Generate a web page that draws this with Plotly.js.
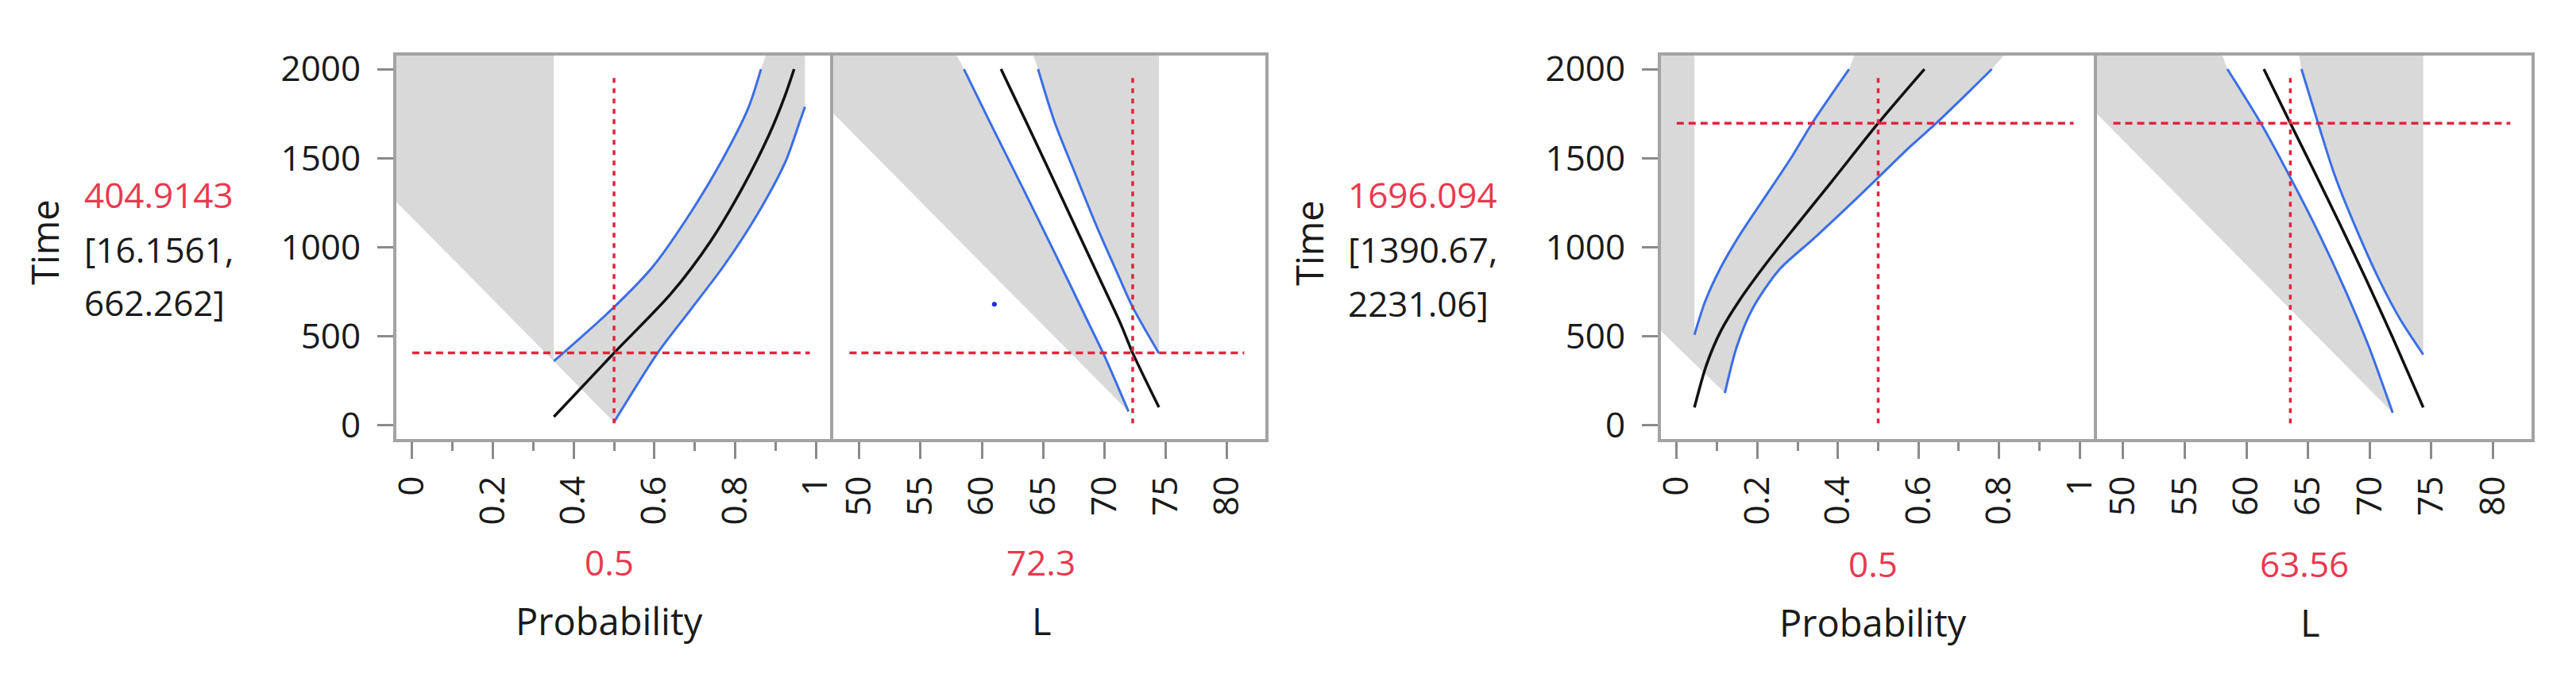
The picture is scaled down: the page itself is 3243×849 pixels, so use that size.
<!DOCTYPE html>
<html><head><meta charset="utf-8">
<script src="https://cdn.plot.ly/plotly-3.0.1.min.js"></script>
<style>html,body{margin:0;padding:0;background:#fff;}#chart{width:3243px;height:849px;}</style>
</head><body><div id="chart"></div>
<script>
// ---------------- axes / ticks ----------------
const timeTickVals = [0, 500, 1000, 1500, 2000];
const timeTickText = ['0', '500', '1000', '1500', '2000'];
const probTickVals = [0, 0.2, 0.4, 0.6, 0.8, 1];
const probTickText = ['0', '0.2', '0.4', '0.6', '0.8', '1'];
const lTickVals = [50, 55, 60, 65, 70, 75, 80];
const lTickText = ['50', '55', '60', '65', '70', '75', '80'];
const timeRange = [-87.5, 2085];
const probRange = [-0.043, 1.039];
const lRange = [47.75, 83.25];

// crosshair extents (data units)
const crossVertT = [10, 1955];
const crossHorizProb = [0, 0.985];
const crossHorizL = [49.2, 81.4];

// ---------------- left profiler ----------------
const leftSetProb = 0.5;
const leftSetL = 72.3;
const leftTime = 404.9143;
const leftCI = [16.1561, 662.262];

const lpBlackP = [0.351, 0.5, 0.641, 0.740, 0.818, 0.884, 0.924, 0.946];
const lpBlackT = [46, 404.9, 738, 1036, 1333, 1631, 1854, 2000];
const lpUpP = [0.351, 0.5, 0.595, 0.687, 0.766, 0.832, 0.864];
const lpUpT = [359, 662.3, 887, 1184, 1482, 1779, 2000];
const lpLoP = [0.5, 0.608, 0.692, 0.772, 0.855, 0.925, 0.960, 0.973];
const lpLoT = [16.2, 405, 655, 895, 1184, 1482, 1705, 1788];
const lpBandTopP = [0.877, 0.973];
const lpDiagEdgeT = 1262;

const llLeftBlueL = [58.54, 60.63, 63.33, 66.03, 68.62, 70.02, 71.96];
const llLeftBlueT = [2000, 1705, 1333, 955, 585, 385, 76];
const llBlackL = [61.56, 63.76, 66.57, 69.37, 71.31, 72.3, 74.44];
const llBlackT = [2000, 1682, 1270, 857, 570, 404.9, 100];
const llRightBlueL = [64.58, 65.92, 67.64, 69.37, 71.10, 72.3, 74.44];
const llRightBlueT = [2000, 1705, 1408, 1115, 845, 662.3, 403];
const llTopEdgeL = [57.88, 64.16];
const llDiagEdgeT = 1760;
const llPointL = [61.02];
const llPointT = [679];

// ---------------- right profiler ----------------
const rightSetProb = 0.5;
const rightSetL = 63.56;
const rightTime = 1696.094;
const rightCI = [1390.67, 2231.06];

const rpBlackP = [0.0441, 0.0736, 0.1098, 0.1556, 0.2212, 0.2999, 0.3853, 0.5, 0.6147];
const rpBlackT = [99, 336, 530, 700, 905, 1130, 1370, 1696.1, 2000];
const rpUpP = [0.0441, 0.0704, 0.1098, 0.1556, 0.2212, 0.2869, 0.3360, 0.4278];
const rpUpT = [507, 693, 887, 1065, 1288, 1512, 1696, 2000];
const rpLoP = [0.1196, 0.1491, 0.1885, 0.254, 0.3392, 0.418, 0.5, 0.582, 0.644, 0.727, 0.782];
const rpLoT = [180, 440, 655, 872, 1046, 1212, 1390.7, 1570, 1696, 1877, 2000];
const rpBandTopP = [0.442, 0.815];
const rpDiagEdgeT = 537;

const rlLeftBlueL = [58.45, 61.24, 63.56, 65.85, 68.0, 69.93, 71.86];
const rlLeftBlueT = [2000, 1687, 1390.7, 1080, 760, 440, 69];
const rlBlackL = [61.41, 63.56, 65.42, 67.57, 69.72, 71.86, 74.34];
const rlBlackT = [2000, 1696.1, 1436, 1130, 816, 491, 99];
const rlRightBlueL = [64.46, 65.85, 67.14, 68.86, 70.79, 72.51, 74.34];
const rlRightBlueT = [2000, 1687, 1407, 1110, 813, 589, 396];
const rlTopEdgeL = [58.01, 64.24];
const rlDiagEdgeT = 1757;

// ---------------- styles ----------------
const FILL = '#d9d9d9';
const BLUE = '#3b6ee6';
const BLACK = '#111111';
const RED = '#e0253f';
const RED_TXT = '#e8394f';
const TXT = '#1a1a1a';
const FRAME = '#a3a3a3';
const TICK = '#8a8a8a';
const FONT = 'Open Sans, Noto Sans, sans-serif';
const W = 3243, H = 849;

const yTop = timeRange[1];

function bandPoly(xMin, upX, upY, topEdge, loX, loY, diagEdge) {
  const xs = [xMin, upX[0]].concat(upX, topEdge, loX.slice().reverse(), [xMin]);
  const ys = [yTop, yTop].concat(upY, [yTop, yTop], loY.slice().reverse(), [diagEdge]);
  return {xs, ys};
}
function leftPoly(xMin, bx, by, topX, diagEdge) {
  return {xs: [xMin, topX].concat(bx, [xMin]), ys: [yTop, yTop].concat(by, [diagEdge])};
}
function rightPoly(topX, bx, by) {
  const endX = bx[bx.length - 1];
  return {xs: [topX, endX].concat(bx.slice().reverse()), ys: [yTop, yTop].concat(by.slice().reverse())};
}
function fillTrace(p, xa, ya) {
  return {x: p.xs, y: p.ys, xaxis: xa, yaxis: ya, type: 'scatter', mode: 'lines', fill: 'toself',
    fillcolor: FILL, line: {width: 0, color: FILL}, hoverinfo: 'skip', showlegend: false};
}
function curve(x, y, color, width, xa, ya) {
  return {x, y, xaxis: xa, yaxis: ya, type: 'scatter', mode: 'lines',
    line: {color, width, shape: 'spline', smoothing: 0.8}, hoverinfo: 'skip', showlegend: false};
}
function redLine(x, y, xa, ya, dash) {
  return {x, y, xaxis: xa, yaxis: ya, type: 'scatter', mode: 'lines',
    line: {color: RED, width: 3.5, dash}, hoverinfo: 'skip', showlegend: false};
}

const traces = [];
// left group
traces.push(fillTrace(bandPoly(probRange[0], lpUpP, lpUpT, lpBandTopP, lpLoP, lpLoT, lpDiagEdgeT), 'x', 'y'));
traces.push(fillTrace(leftPoly(lRange[0], llLeftBlueL, llLeftBlueT, llTopEdgeL[0], llDiagEdgeT), 'x2', 'y'));
traces.push(fillTrace(rightPoly(llTopEdgeL[1], llRightBlueL, llRightBlueT), 'x2', 'y'));
// right group
traces.push(fillTrace(bandPoly(probRange[0], rpUpP, rpUpT, rpBandTopP, rpLoP, rpLoT, rpDiagEdgeT), 'x3', 'y2'));
traces.push(fillTrace(leftPoly(lRange[0], rlLeftBlueL, rlLeftBlueT, rlTopEdgeL[0], rlDiagEdgeT), 'x4', 'y2'));
traces.push(fillTrace(rightPoly(rlTopEdgeL[1], rlRightBlueL, rlRightBlueT), 'x4', 'y2'));

// curves
traces.push(curve(lpUpP, lpUpT, BLUE, 3, 'x', 'y'));
traces.push(curve(lpLoP, lpLoT, BLUE, 3, 'x', 'y'));
traces.push(curve(lpBlackP, lpBlackT, BLACK, 3.5, 'x', 'y'));
traces.push(curve(llLeftBlueL, llLeftBlueT, BLUE, 3, 'x2', 'y'));
traces.push(curve(llRightBlueL, llRightBlueT, BLUE, 3, 'x2', 'y'));
traces.push(curve(llBlackL, llBlackT, BLACK, 3.5, 'x2', 'y'));
traces.push({x: llPointL, y: llPointT, xaxis: 'x2', yaxis: 'y', type: 'scatter', mode: 'markers',
  marker: {color: '#1f2bef', size: 6}, hoverinfo: 'skip', showlegend: false});
traces.push(curve(rpUpP, rpUpT, BLUE, 3, 'x3', 'y2'));
traces.push(curve(rpLoP, rpLoT, BLUE, 3, 'x3', 'y2'));
traces.push(curve(rpBlackP, rpBlackT, BLACK, 3.5, 'x3', 'y2'));
traces.push(curve(rlLeftBlueL, rlLeftBlueT, BLUE, 3, 'x4', 'y2'));
traces.push(curve(rlRightBlueL, rlRightBlueT, BLUE, 3, 'x4', 'y2'));
traces.push(curve(rlBlackL, rlBlackT, BLACK, 3.5, 'x4', 'y2'));

// crosshairs
const VD = '6px,7px', HD = '9px,6px';
traces.push(redLine([leftSetProb, leftSetProb], crossVertT, 'x', 'y', VD));
traces.push(redLine(crossHorizProb, [leftTime, leftTime], 'x', 'y', HD));
traces.push(redLine([leftSetL, leftSetL], crossVertT, 'x2', 'y', VD));
traces.push(redLine(crossHorizL, [leftTime, leftTime], 'x2', 'y', HD));
traces.push(redLine([rightSetProb, rightSetProb], crossVertT, 'x3', 'y2', VD));
traces.push(redLine(crossHorizProb, [rightTime, rightTime], 'x3', 'y2', HD));
traces.push(redLine([rightSetL, rightSetL], crossVertT, 'x4', 'y2', VD));
traces.push(redLine(crossHorizL, [rightTime, rightTime], 'x4', 'y2', HD));

const px = v => v / W;
const py = v => 1 - v / H;
const yDom = [py(555), py(68)];

function xAx(dom, range, vals, text, anchor, minor) {
  const a = {domain: dom, range, anchor, tickmode: 'array', tickvals: vals, ticktext: text,
    ticks: 'outside', ticklen: 22, tickwidth: 3, tickcolor: TICK, tickangle: -90,
    ticklabelstandoff: 4,
    tickfont: {family: FONT, size: 44, color: TXT}, showgrid: false, zeroline: false, showline: false,
    fixedrange: true};
  if (minor) a.minor = {tickmode: 'linear', tick0: 0, dtick: 0.1, ticks: 'outside', ticklen: 12,
    tickwidth: 3, tickcolor: TICK, showgrid: false};
  return a;
}
function yAx(anchor) {
  return {domain: yDom, range: timeRange, anchor, tickmode: 'array', tickvals: timeTickVals,
    ticktext: timeTickText, ticks: 'outside', ticklen: 21, tickwidth: 3, tickcolor: TICK,
    ticklabelstandoff: 12,
    tickfont: {family: FONT, size: 44, color: TXT}, showgrid: false, zeroline: false,
    showline: false, fixedrange: true};
}

const frames = [['x', 'y'], ['x2', 'y'], ['x3', 'y2'], ['x4', 'y2']].map(([a, b]) => ({
  type: 'rect', xref: a + ' domain', yref: b + ' domain', x0: 0, x1: 1, y0: 0, y1: 1,
  line: {color: FRAME, width: 4}, layer: 'above'}));

function ann(text, x, y, color, size, opts) {
  return Object.assign({text, x: px(x), y: py(y), xref: 'paper', yref: 'paper', showarrow: false,
    xanchor: 'center', yanchor: 'middle', font: {family: FONT, size, color}}, opts || {});
}
const annotations = [
  ann('Time', 56, 305, TXT, 47, {textangle: -90}),
  ann(String(leftTime), 104, 245, RED_TXT, 44, {xanchor: 'left'}),
  ann('[' + leftCI[0] + ',', 104, 314, TXT, 44, {xanchor: 'left'}),
  ann(leftCI[1] + ']', 104, 381, TXT, 44, {xanchor: 'left'}),
  ann(String(leftSetProb), 767, 708, RED_TXT, 44),
  ann(String(leftSetL), 1310, 708, RED_TXT, 44),
  ann('Probability', 767, 782, TXT, 47),
  ann('L', 1311, 782, TXT, 47),
  ann('Time', 1648, 306, TXT, 47, {textangle: -90}),
  ann(String(rightTime), 1695, 245, RED_TXT, 44, {xanchor: 'left'}),
  ann('[' + rightCI[0] + ',', 1695, 314, TXT, 44, {xanchor: 'left'}),
  ann(rightCI[1] + ']', 1695, 382, TXT, 44, {xanchor: 'left'}),
  ann(String(rightSetProb), 2358, 710, RED_TXT, 44),
  ann(String(rightSetL), 2901, 710, RED_TXT, 44),
  ann('Probability', 2358, 784, TXT, 47),
  ann('L', 2908, 784, TXT, 47)
];

const layout = {
  width: W, height: H, margin: {l: 0, r: 0, t: 0, b: 0, pad: 0},
  paper_bgcolor: '#ffffff', plot_bgcolor: '#ffffff', showlegend: false, hovermode: false,
  xaxis: xAx([px(497), px(1047)], probRange, probTickVals, probTickText, 'y', true),
  xaxis2: xAx([px(1047), px(1595)], lRange, lTickVals, lTickText, 'y', false),
  xaxis3: xAx([px(2089), px(2638)], probRange, probTickVals, probTickText, 'y2', true),
  xaxis4: xAx([px(2638), px(3189)], lRange, lTickVals, lTickText, 'y2', false),
  yaxis: yAx('x'),
  yaxis2: yAx('x3'),
  shapes: frames,
  annotations
};
Plotly.newPlot('chart', traces, layout, {staticPlot: true, displayModeBar: false});
</script></body></html>
